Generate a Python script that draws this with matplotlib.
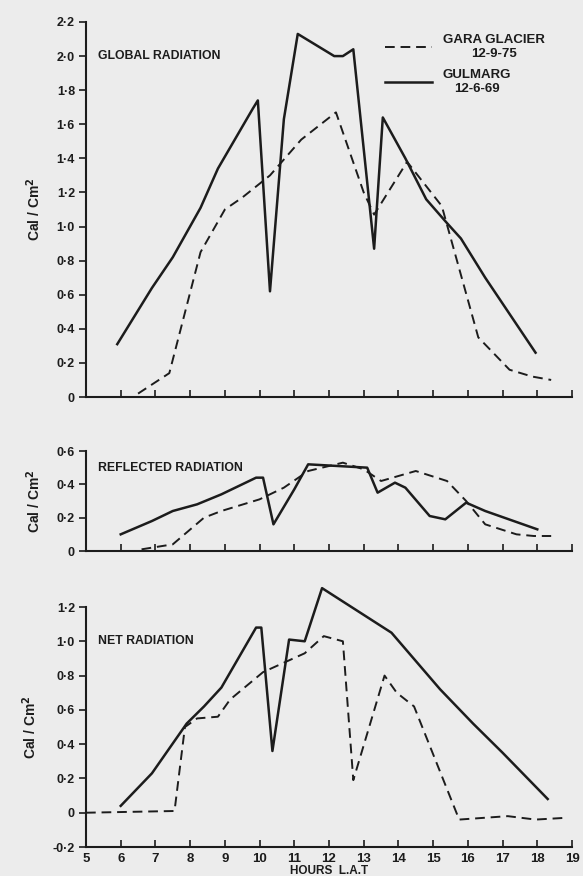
import numpy as np
import matplotlib
matplotlib.use("Agg")
import matplotlib.pyplot as plt
from matplotlib.ticker import FuncFormatter

# global radiation
glob_gul_h = [5.9, 6.9, 7.5, 8.3, 8.8, 9.8, 9.95, 10.3, 10.7, 11.1, 12.15, 12.4, 12.7, 13.3, 13.55, 14.2, 14.8, 15.4, 15.8, 16.5, 17.95]
glob_gul_v = [0.31, 0.64, 0.82, 1.11, 1.34, 1.69, 1.74, 0.62, 1.63, 2.13, 2.00, 2.00, 2.04, 0.87, 1.64, 1.40, 1.16, 1.02, 0.93, 0.70, 0.26]
glob_gar_h = [6.5, 7.4, 8.3, 9.0, 9.5, 10.3, 11.2, 12.2, 13.0, 13.3, 14.25, 15.25, 16.3, 17.2, 17.85, 18.4]
glob_gar_v = [0.02, 0.14, 0.85, 1.10, 1.17, 1.30, 1.51, 1.67, 1.20, 1.07, 1.38, 1.12, 0.35, 0.16, 0.12, 0.10]

# reflected radiation
refl_gul_h = [6.0, 6.9, 7.5, 8.2, 8.9, 9.9, 10.1, 10.4, 11.0, 11.4, 13.1, 13.4, 13.9, 14.2, 14.9, 15.35, 15.95, 16.5, 18.0]
refl_gul_v = [0.10, 0.18, 0.24, 0.28, 0.34, 0.44, 0.44, 0.16, 0.37, 0.52, 0.50, 0.35, 0.41, 0.38, 0.21, 0.19, 0.29, 0.24, 0.13]
refl_gar_h = [6.6, 7.5, 8.4, 8.9, 10.0, 10.7, 11.4, 12.4, 13.0, 13.5, 14.5, 15.4, 15.95, 16.5, 17.4, 17.9, 18.4]
refl_gar_v = [0.01, 0.04, 0.20, 0.24, 0.31, 0.38, 0.48, 0.53, 0.49, 0.42, 0.48, 0.42, 0.30, 0.16, 0.10, 0.09, 0.09]

# net radiation
net_gul_h = [6.0, 6.9, 7.9, 8.4, 8.9, 9.9, 10.05, 10.37, 10.85, 11.3, 11.8, 13.8, 15.2, 16.15, 17.0, 18.3]
net_gul_v = [0.04, 0.23, 0.52, 0.62, 0.73, 1.08, 1.08, 0.36, 1.01, 1.00, 1.31, 1.05, 0.72, 0.52, 0.35, 0.08]
net_gar_h = [5.0, 7.55, 7.85, 8.2, 8.8, 9.15, 10.1, 11.3, 11.85, 12.4, 12.7, 13.6, 13.95, 14.45, 15.75, 17.15, 17.95, 18.8]
net_gar_v = [0.0, 0.01, 0.50, 0.55, 0.56, 0.66, 0.82, 0.93, 1.03, 1.00, 0.19, 0.80, 0.70, 0.62, -0.04, -0.02, -0.04, -0.03]

hours = list(range(5, 20))

plt.rcParams['font.family'] = ['Liberation Sans', 'DejaVu Sans']
plt.rcParams['font.weight'] = 'bold'
ink = '#1c1c1c'
paper = '#ececec'

fig = plt.figure(figsize=(5.83, 8.76), dpi=100, facecolor=paper)
L, W = 86 / 583, 486 / 583
ax1 = fig.add_axes([L, 1 - 397 / 876, W, 375 / 876])
ax2 = fig.add_axes([L, 1 - 551 / 876, W, 100 / 876])
ax3 = fig.add_axes([L, 1 - 847 / 876, W, 240 / 876])

def dotfmt(v, pos):
    if abs(v) < 1e-9:
        return '0'
    return ('%.1f' % v).replace('.', '\u00b7')

panels = [
    (ax1, glob_gul_h, glob_gul_v, glob_gar_h, glob_gar_v, (0, 2.2), np.arange(0, 2.21, 0.2), 'GLOBAL RADIATION', 2.0),
    (ax2, refl_gul_h, refl_gul_v, refl_gar_h, refl_gar_v, (0, 0.6), np.arange(0, 0.61, 0.2), 'REFLECTED RADIATION', 0.5),
    (ax3, net_gul_h, net_gul_v, net_gar_h, net_gar_v, (-0.2, 1.2), np.arange(-0.2, 1.21, 0.2), 'NET RADIATION', 1.0),
]

for ax, gh, gv, dh, dv, ylim, yt, title, ty in panels:
    ax.set_facecolor(paper)
    ax.plot(gh, gv, color=ink, lw=1.8, clip_on=False, label='GULMARG\n12-6-69')
    ax.plot(dh, dv, color=ink, lw=1.4, ls=(0, (5, 3)), clip_on=False, label='GARA GLACIER\n12-9-75')
    ax.set_xlim(5, 19)
    ax.set_ylim(*ylim)
    ax.set_yticks(yt)
    ax.set_xticks(hours)
    ax.yaxis.set_major_formatter(FuncFormatter(dotfmt))
    ax.tick_params(axis='y', direction='out', length=5, width=1.2, labelsize=9, colors=ink, pad=3)
    ax.tick_params(axis='x', direction='in', length=5, width=1.2, labelsize=9.5, colors=ink, pad=4)
    for s in ['top', 'right']:
        ax.spines[s].set_visible(False)
    for s in ['left', 'bottom']:
        ax.spines[s].set_linewidth(1.5)
        ax.spines[s].set_color(ink)
    ax.text(5.35, ty, title, fontsize=8.8, fontweight='bold', color=ink, va='center')
    ax.set_ylabel('Cal / Cm$^2$', fontsize=10, fontweight='bold', color=ink, labelpad=10)

ax1.tick_params(axis='x', labelbottom=False)
ax2.tick_params(axis='x', labelbottom=False)
ax3.set_xlabel('HOURS  L.A.T', fontsize=8.5, fontweight='bold', color=ink, labelpad=0)

h, lab = ax1.get_legend_handles_labels()
leg = ax1.legend(h[::-1], lab[::-1], loc='upper right', bbox_to_anchor=(0.968, 1.0), frameon=False,
                 fontsize=9.5, handlelength=3.6, handletextpad=0.8, labelspacing=0.7)
for t in leg.get_texts():
    t.set_multialignment('center')
    t.set_color(ink)

fig.savefig('out.png', dpi=100, facecolor=paper)
